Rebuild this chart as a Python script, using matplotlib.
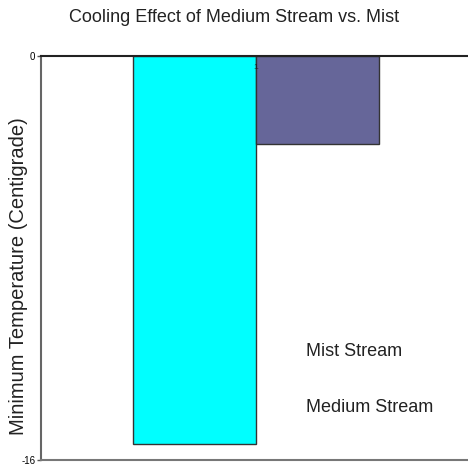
import matplotlib.pyplot as plt

plt.rcParams['font.family'] = ['Liberation Sans', 'DejaVu Sans']

series = ['Mist Stream', 'Medium Stream']
values = [-15.35, -3.5]
colors = ['#00ffff', '#666699']
category = 1

fig = plt.figure(figsize=(4.68, 4.70), dpi=100)
ax = fig.add_axes([41 / 468, 10 / 470, 426 / 468, 404 / 470])

w = 0.288
offsets = [-w / 2, w / 2]
for v, c, off in zip(values, colors, offsets):
    ax.bar(category + off, v, width=w, color=c, edgecolor='#333333', linewidth=1)

ax.set_xlim(0.495, 1.495)
ax.set_ylim(-16, 0)
ax.set_yticks([-16, 0])
ax.set_yticklabels(['-16', '0'], fontsize=7)
ax.set_xticks([])
ax.tick_params(axis='y', length=3, width=1, color='#555555', pad=1)

ax.spines['right'].set_visible(False)
ax.spines['top'].set_color('#222222')
ax.spines['top'].set_linewidth(1.5)
ax.spines['left'].set_color('#666666')
ax.spines['left'].set_linewidth(1.5)
ax.spines['bottom'].set_color('#777777')
ax.spines['bottom'].set_linewidth(1.5)

ax.text(category, -0.45, '1', fontsize=6, ha='center', va='center', zorder=3, color='#222222')

fig.text(0.5, 1 - 17 / 470, 'Cooling Effect of Medium Stream vs. Mist',
         ha='center', va='center', fontsize=13, color='#222222')
fig.text(19 / 468, 1 - 276 / 470, 'Minimum Temperature (Centigrade)', rotation=90,
         ha='center', va='center', fontsize=14.5, color='#222222')

ypos = [352, 407]
for name, y in zip(series, ypos):
    fig.text(306 / 468, 1 - y / 470, name, ha='left', va='center', fontsize=13, color='#222222')

fig.savefig('out.png')
